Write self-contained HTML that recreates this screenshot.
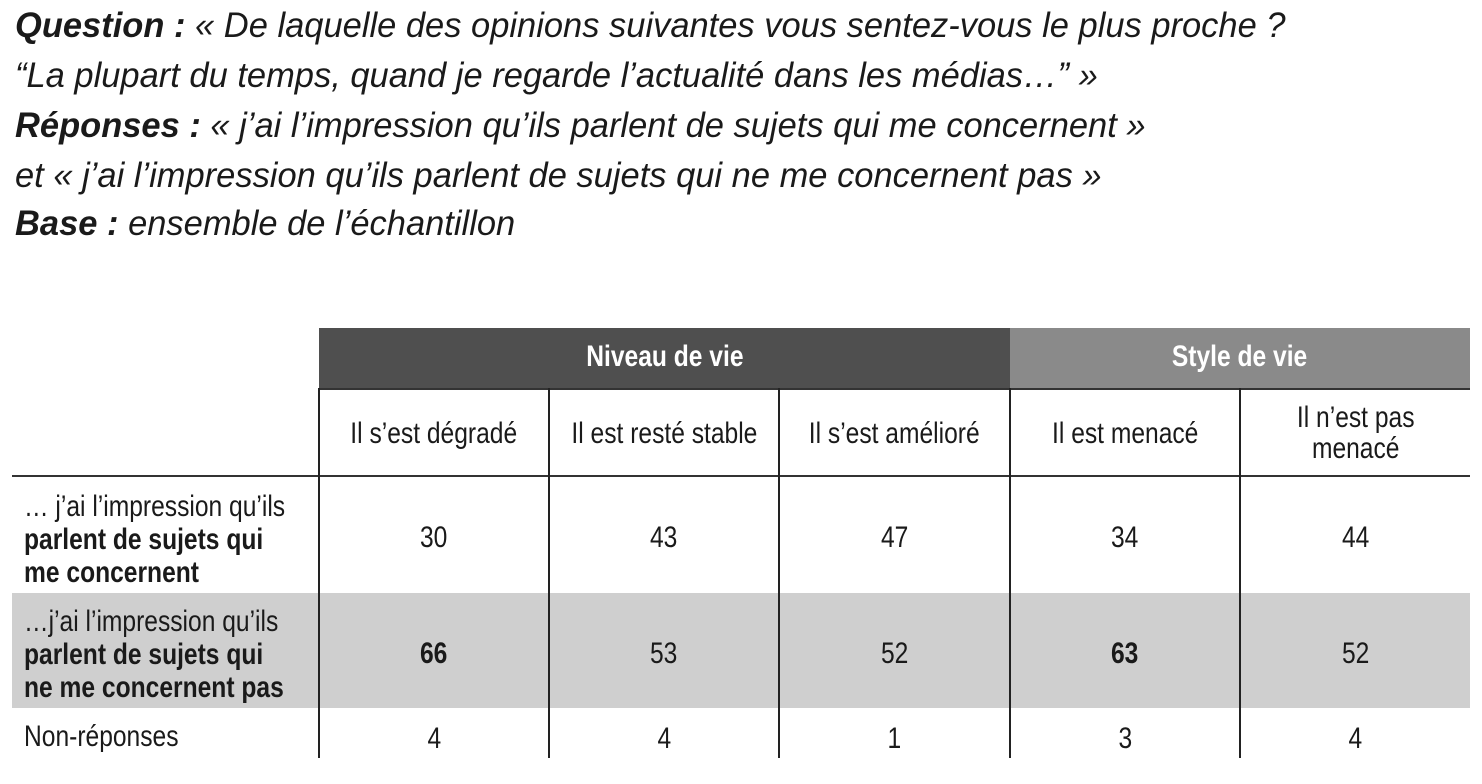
<!DOCTYPE html>
<html><head><meta charset="utf-8"><style>
body{margin:0;width:1482px;height:784px;background:#fff;position:relative;overflow:hidden;font-family:"Liberation Sans",sans-serif;color:#1a1a1a}
.t{position:absolute;left:15px;font-style:italic;font-size:35px;white-space:nowrap;line-height:40px}
.t span{display:inline-block;transform:scaleX(0.985);transform-origin:left center}
.a{position:absolute}
.c{position:absolute;display:flex;align-items:center;justify-content:center;text-align:center;font-size:30px;line-height:31px}
.c span,.l span{display:inline-block;transform:scaleX(0.82);white-space:nowrap}
.l{position:absolute;left:24px;font-size:30px;line-height:33px}
.l span{transform-origin:left center}
.vl{position:absolute;width:2px;background:#222}
</style></head><body>
<div class="t" style="top:6px"><span><b>Question :</b> « De laquelle des opinions suivantes vous sentez-vous le plus proche ?</span></div>
<div class="t" style="top:56px"><span>“La plupart du temps, quand je regarde l’actualité dans les médias…” »</span></div>
<div class="t" style="top:106px"><span><b>Réponses :</b> « j’ai l’impression qu’ils parlent de sujets qui me concernent »</span></div>
<div class="t" style="top:156px"><span>et « j’ai l’impression qu’ils parlent de sujets qui ne me concernent pas »</span></div>
<div class="t" style="top:204px"><span><b>Base :</b> ensemble de l’échantillon</span></div>

<div class="a" style="left:319px;top:328px;width:691px;height:61px;background:#4f4f4f"></div>
<div class="a" style="left:1010px;top:328px;width:460px;height:61px;background:#8a8a8a"></div>
<div class="c" style="left:319px;top:328px;width:691px;height:56px;color:#fff;font-weight:bold"><span>Niveau de vie</span></div>
<div class="c" style="left:1010px;top:328px;width:460px;height:56px;color:#fff;font-weight:bold"><span>Style de vie</span></div>
<div class="a" style="left:319px;top:388px;width:1151px;height:2px;background:#333"></div>

<div class="a" style="left:12px;top:593px;width:1458px;height:115px;background:#cfcfcf"></div>
<div class="a" style="left:12px;top:475px;width:1458px;height:2px;background:#333"></div>

<div class="vl" style="left:318px;top:388px;height:370px"></div>
<div class="vl" style="left:548px;top:388px;height:370px"></div>
<div class="vl" style="left:778px;top:388px;height:370px"></div>
<div class="vl" style="left:1009px;top:388px;height:370px"></div>
<div class="vl" style="left:1239px;top:388px;height:370px"></div>

<div class="c" style="left:320px;top:390px;width:228px;height:86px"><span>Il s’est dégradé</span></div>
<div class="c" style="left:550px;top:390px;width:228px;height:86px"><span>Il est resté stable</span></div>
<div class="c" style="left:780px;top:390px;width:229px;height:86px"><span>Il s’est amélioré</span></div>
<div class="c" style="left:1011px;top:390px;width:228px;height:86px"><span>Il est menacé</span></div>
<div class="c" style="left:1241px;top:390px;width:229px;height:86px"><span>Il n’est pas<br>menacé</span></div>

<div class="l" style="top:490px"><span>… j’ai l’impression qu’ils<br><b>parlent de sujets qui<br>me concernent</b></span></div>
<div class="l" style="top:605px"><span>…j’ai l’impression qu’ils<br><b>parlent de sujets qui<br>ne me concernent pas</b></span></div>
<div class="l" style="top:720px"><span>Non-réponses</span></div>

<div class="c" style="left:320px;top:477px;width:228px;height:120px"><span>30</span></div>
<div class="c" style="left:550px;top:477px;width:228px;height:120px"><span>43</span></div>
<div class="c" style="left:780px;top:477px;width:229px;height:120px"><span>47</span></div>
<div class="c" style="left:1011px;top:477px;width:228px;height:120px"><span>34</span></div>
<div class="c" style="left:1241px;top:477px;width:229px;height:120px"><span>44</span></div>

<div class="c" style="left:320px;top:593px;width:228px;height:120px;font-weight:bold"><span>66</span></div>
<div class="c" style="left:550px;top:593px;width:228px;height:120px"><span>53</span></div>
<div class="c" style="left:780px;top:593px;width:229px;height:120px"><span>52</span></div>
<div class="c" style="left:1011px;top:593px;width:228px;height:120px;font-weight:bold"><span>63</span></div>
<div class="c" style="left:1241px;top:593px;width:229px;height:120px"><span>52</span></div>

<div class="c" style="left:320px;top:714px;width:228px;height:48px"><span>4</span></div>
<div class="c" style="left:550px;top:714px;width:228px;height:48px"><span>4</span></div>
<div class="c" style="left:780px;top:714px;width:229px;height:48px"><span>1</span></div>
<div class="c" style="left:1011px;top:714px;width:228px;height:48px"><span>3</span></div>
<div class="c" style="left:1241px;top:714px;width:229px;height:48px"><span>4</span></div>
</body></html>
